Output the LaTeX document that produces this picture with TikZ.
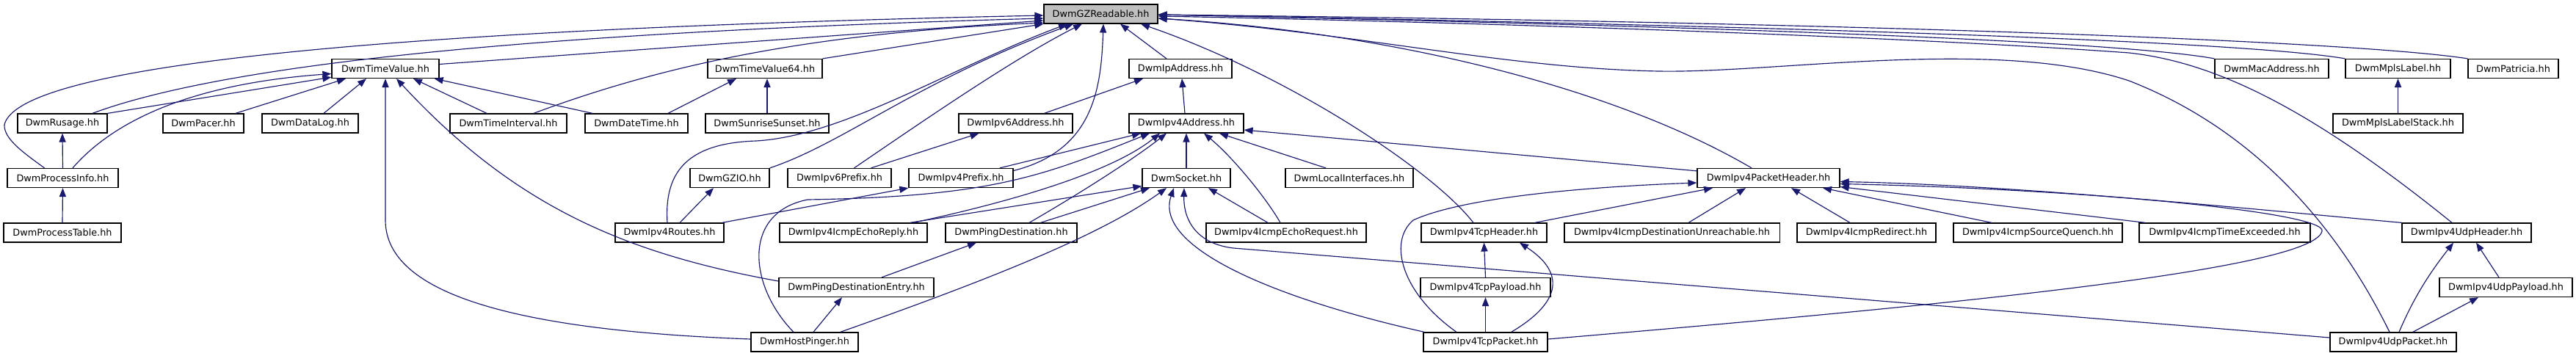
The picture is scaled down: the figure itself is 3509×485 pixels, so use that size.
\documentclass[tikz,border=0pt]{standalone}
\usepackage{fontspec}
\setmainfont{DejaVu Sans}
\usetikzlibrary{arrows.meta,calc}
\definecolor{edgeblue}{HTML}{191970}
\definecolor{rootgray}{HTML}{BFBFBF}
\begin{document}
\begin{tikzpicture}[x=0.01cm,y=-0.01cm,
  file/.style={draw=black,fill=white,line width=0.35pt,minimum height=0.26cm,inner sep=0pt,
    font=\fontsize{3.65}{4}\selectfont},
  dep/.style={draw=edgeblue,line width=0.33pt,-{Triangle[length=3.4pt,width=2.6pt]}}]
\fill[white] (0,0) rectangle (3509,485);
\useasboundingbox (0,0) rectangle (3509,485);
% row 0 and 1
\node[file,fill=rootgray,minimum width=1.55cm] (gz) at (1499.5,19) {DwmGZReadable.hh};
\node[file,minimum width=1.46cm] (tv) at (525,93.5) {DwmTimeValue.hh};
\node[file,minimum width=1.56cm] (tvlong) at (1042,93.5) {DwmTimeValue64.hh};
\node[file,minimum width=1.40cm] (ipaddr) at (1608,93.5) {DwmIpAddress.hh};
\node[file,minimum width=1.55cm] (mac) at (3094.5,93.5) {DwmMacAddress.hh};
\node[file,minimum width=1.43cm] (mpls) at (3266.5,93.5) {DwmMplsLabel.hh};
\node[file,minimum width=1.23cm] (patricia) at (3423.5,93.5) {DwmPatricia.hh};
% row 2
\node[file,minimum width=1.22cm] (rusage) at (85,168) {DwmRusage.hh};
\node[file,minimum width=1.10cm] (pacer) at (277,168) {DwmPacer.hh};
\node[file,minimum width=1.31cm] (datalog) at (422.5,168) {DwmDataLog.hh};
\node[file,minimum width=1.59cm] (tinterval) at (692.5,168) {DwmTimeInterval.hh};
\node[file,minimum width=1.40cm] (datetime) at (867,168) {DwmDateTime.hh};
\node[file,minimum width=1.68cm] (sunrise) at (1045,168) {DwmSunriseSunset.hh};
\node[file,minimum width=1.55cm] (ipvsix) at (1383.5,168) {DwmIpv6Address.hh};
\node[file,minimum width=1.56cm] (ipvfour) at (1616,168) {DwmIpv4Address.hh};
\node[file,minimum width=1.77cm] (mplsstack) at (3266.5,168) {DwmMplsLabelStack.hh};
% row 3
\node[file,minimum width=1.51cm] (procinfo) at (85.5,242.5) {DwmProcessInfo.hh};
\node[file,minimum width=1.08cm] (gzio) at (994,242.5) {DwmGZIO.hh};
\node[file,minimum width=1.41cm] (sixprefix) at (1143.5,242.5) {DwmIpv6Prefix.hh};
\node[file,minimum width=1.42cm] (fourprefix) at (1309,242.5) {DwmIpv4Prefix.hh};
\node[file,minimum width=1.20cm] (socket) at (1616,242.5) {DwmSocket.hh};
\node[file,minimum width=1.74cm] (localif) at (1838,242.5) {DwmLocalInterfaces.hh};
\node[file,minimum width=1.94cm] (pkthdr) at (2409,242.5) {DwmIpv4PacketHeader.hh};
% row 4
\node[file,minimum width=1.60cm] (proctable) at (85,317) {DwmProcessTable.hh};
\node[file,minimum width=1.48cm] (routes) at (912,317) {DwmIpv4Routes.hh};
\node[file,minimum width=2.01cm] (echoreply) at (1162.5,317) {DwmIpv4IcmpEchoReply.hh};
\node[file,minimum width=1.79cm] (pingdest) at (1377.5,317) {DwmPingDestination.hh};
\node[file,minimum width=2.18cm] (echoreq) at (1752,317) {DwmIpv4IcmpEchoRequest.hh};
\node[file,minimum width=1.71cm] (tcphdr) at (2021.5,317) {DwmIpv4TcpHeader.hh};
\node[file,minimum width=2.93cm] (unreach) at (2277.5,317) {DwmIpv4IcmpDestinationUnreachable.hh};
\node[file,minimum width=1.89cm] (redirect) at (2542.5,317) {DwmIpv4IcmpRedirect.hh};
\node[file,minimum width=2.30cm] (quench) at (2776,317) {DwmIpv4IcmpSourceQuench.hh};
\node[file,minimum width=2.33cm] (exceeded) at (3030.5,317) {DwmIpv4IcmpTimeExceeded.hh};
\node[file,minimum width=1.76cm] (udphdr) at (3360,317) {DwmIpv4UdpHeader.hh};
% row 5 and 6
\node[file,minimum width=2.11cm] (pingentry) at (1166.5,391.5) {DwmPingDestinationEntry.hh};
\node[file,minimum width=1.77cm] (tcppayload) at (2023.5,391.5) {DwmIpv4TcpPayload.hh};
\node[file,minimum width=1.81cm] (udppayload) at (3413.5,391.5) {DwmIpv4UdpPayload.hh};
\node[file,minimum width=1.46cm] (hostpinger) at (1096,466) {DwmHostPinger.hh};
\node[file,minimum width=1.69cm] (tcppacket) at (2023.5,466) {DwmIpv4TcpPacket.hh};
\node[file,minimum width=1.72cm] (udppacket) at (3260,466) {DwmIpv4UdpPacket.hh};
% into DwmGZReadable.hh
\draw[dep] ($(procinfo.north)+(-25,0)$) .. controls (35,210) and (5,190) .. (6,170)
  .. controls (20,110) and (300,45) .. ($(gz.west)+(0,2)$);
\draw[dep] ($(rusage.north)+(41,0)$) .. controls (300,90) and (700,45) .. ($(gz.west)+(0,6)$);
\draw[dep] ($(tv.east)+(0,-6)$) -- ($(gz.west)+(0,9)$);
\draw[dep] ($(tinterval.north)+(34.5,0)$) .. controls (900,90) and (1100,45) .. ($(gz.west)+(0,12)$);
\draw[dep] (tvlong.north east) -- (gz.south west);
\draw[dep] ($(routes.north)+(-3,0)$) .. controls (905,240) and (930,195) .. (1030,192)
  .. controls (1150,185) and (1300,90) .. ($(gz.south)+(-45.5,0)$);
\draw[dep] (gzio.north east) .. controls (1150,195) and (1250,110) .. ($(gz.south)+(-37.5,0)$);
\draw[dep] ($(sixprefix.north)+(20,0)$) .. controls (1250,170) and (1380,80) .. ($(gz.south)+(-25.5,0)$);
\draw[dep] ($(fourprefix.east)+(0,-10)$) .. controls (1490,205) and (1500,120) .. ($(gz.south)+(3.5,0)$);
\draw[dep] ($(ipaddr.north)+(-19,0)$) -- ($(gz.south)+(26.5,0)$);
\draw[dep] ($(tcphdr.north)+(-14.5,0)$) .. controls (1950,230) and (1750,100) .. ($(gz.south)+(54.5,0)$);
\draw[dep] ($(pkthdr.north)+(-23,0)$) .. controls (2200,120) and (1900,45) .. ($(gz.east)+(0,6)$);
\draw[dep] ($(udppacket.north)+(-5,0)$) .. controls (3190,320) and (3080,180) .. (2900,110)
  .. controls (2720,50) and (2420,100) .. (2259,97)
  .. controls (2050,93) and (1850,45) .. ($(gz.east)+(0,6)$);
\draw[dep] (mac.north west) .. controls (2880,55) and (2300,35) .. ($(gz.east)+(0,1)$);
\draw[dep] (mpls.north west) .. controls (3050,55) and (2400,35) .. ($(gz.east)+(0,1)$);
\draw[dep] (patricia.north west) .. controls (3200,55) and (2500,30) .. ($(gz.east)+(0,1)$);
\draw[dep] ($(udphdr.north)+(-20,0)$) .. controls (3150,150) and (3020,85) .. (2900,72)
  .. controls (2600,50) and (2000,30) .. ($(gz.east)+(0,3)$);
% into DwmTimeValue.hh and DwmTimeValue64.hh
\draw[dep] ($(procinfo.north)+(13.5,0)$) .. controls (150,170) and (250,115) .. ($(tv.west)+(0,7)$);
\draw[dep] (rusage.north east) -- ($(tv.south west)+(0,-2)$);
\draw[dep] ($(pacer.north)+(44,0)$) -- ($(tv.south)+(-54,0)$);
\draw[dep] ($(datalog.north)+(18.5,0)$) -- ($(tv.south)+(-26,0)$);
\draw[dep] ($(hostpinger.west)+(0,-4)$) .. controls (700,450) and (525,400) .. (525,300) -- (tv.south);
\draw[dep] ($(pingentry.west)+(0,-8.5)$) .. controls (850,345) and (700,280) .. ($(tv.south)+(15,0)$);
\draw[dep] ($(tinterval.north)+(-29.5,0)$) -- ($(tv.south)+(38,0)$);
\draw[dep] ($(datetime.north)+(-60,0)$) -- ($(tv.south east)+(-7,0)$);
\draw[dep] ($(datetime.north)+(43,0)$) -- ($(tvlong.south)+(-39,0)$);
\draw[dep] (sunrise.north) -- ($(tvlong.south)+(3,0)$);
\draw[dep] (procinfo.north) -- (rusage.south);
\draw[dep] (proctable.north) -- (procinfo.south);
% addresses and prefixes
\draw[dep] ($(ipvsix.north)+(39,0)$) -- ($(ipaddr.south)+(-51,0)$);
\draw[dep] ($(ipvfour.north)+(-2,0)$) -- ($(ipaddr.south)+(2,0)$);
\draw[dep] ($(sixprefix.north)+(43,0)$) -- ($(ipvsix.south)+(-50,0)$);
\draw[dep] ($(fourprefix.north)+(53,0)$) -- ($(ipvfour.south)+(-62,0)$);
\draw[dep] ($(hostpinger.north)+(-15,0)$) .. controls (1020,390) and (1010,290) .. (1100,272)
  .. controls (1350,268) and (1420,240) .. ($(ipvfour.south)+(-50,0)$);
\draw[dep] ($(echoreply.north)+(81.5,0)$) .. controls (1400,270) and (1520,230) .. ($(ipvfour.south)+(-36,0)$);
\draw[dep] ($(pingdest.north)+(24.5,0)$) .. controls (1460,270) and (1540,220) .. ($(ipvfour.south)+(-27,0)$);
\draw[dep] (socket.north) -- (ipvfour.south);
\draw[dep] ($(echoreq.north)+(-8,0)$) .. controls (1725,270) and (1680,215) .. ($(ipvfour.south)+(24,0)$);
\draw[dep] ($(localif.north)+(-32,0)$) -- ($(ipvfour.south)+(45,0)$);
\draw[dep] ($(pkthdr.north west)+(0,4)$) -- ($(ipvfour.east)+(0,9)$);
\draw[dep] ($(routes.north east)+(-3,0)$) -- (fourprefix.south west);
\draw[dep] ($(routes.north)+(14,0)$) -- ($(gzio.south)+(-22,0)$);
% into DwmSocket.hh
\draw[dep] ($(echoreply.north)+(77,0)$) -- ($(socket.west)+(0,11)$);
\draw[dep] ($(pingdest.north)+(40,0)$) -- ($(socket.south)+(-50,0)$);
\draw[dep] ($(hostpinger.north east)+(-25,0)$) .. controls (1350,380) and (1500,320) .. ($(socket.south)+(-27,0)$);
\draw[dep] ($(tcppacket.north west)+(2,0)$) .. controls (1750,410) and (1570,340) .. ($(socket.south)+(-17,0)$);
\draw[dep] ($(udppacket.west)+(0,-6)$) -- (1680,338) .. controls (1630,332) and (1612,300) .. ($(socket.south)+(-3,0)$);
\draw[dep] ($(echoreq.north)+(-25,0)$) -- ($(socket.south)+(30,0)$);
% into DwmIpv4PacketHeader.hh
\draw[dep] ($(tcppacket.north)+(-39.5,0)$) .. controls (1910,400) and (1890,330) .. (1925,300)
  .. controls (1990,270) and (2150,255) .. ($(pkthdr.west)+(0,6.5)$);
\draw[dep] ($(tcphdr.north east)+(-17,0)$) -- ($(pkthdr.south)+(-76,0)$);
\draw[dep] ($(unreach.north)+(22.5,0)$) -- ($(pkthdr.south)+(-31,0)$);
\draw[dep] ($(redirect.north)+(-22.5,0)$) -- ($(pkthdr.south)+(31,0)$);
\draw[dep] ($(quench.north)+(-63,0)$) -- ($(pkthdr.south)+(74,0)$);
\draw[dep] ($(exceeded.north west)+(9,0)$) -- ($(pkthdr.east)+(0,12)$);
\draw[dep] (udphdr.north west) .. controls (3100,288) and (2750,252) .. ($(pkthdr.east)+(0,5)$);
\draw[dep] ($(tcppacket.east)+(0,-4)$) .. controls (2600,420) and (3150,370) .. (3163,315)
  .. controls (3170,290) and (2850,258) .. ($(pkthdr.east)+(0,8)$);
% tcp, udp, mpls, ping
\draw[dep] (tcppayload.north) -- (tcphdr.south);
\draw[dep] ($(tcppacket.north east)+(-50,0)$) .. controls (2130,410) and (2130,370) .. ($(tcphdr.south)+(48.5,0)$);
\draw[dep] (tcppacket.north) -- (tcppayload.south);
\draw[dep] ($(udppacket.north)+(8,0)$) .. controls (3290,400) and (3315,365) .. ($(udphdr.south)+(-18,0)$);
\draw[dep] ($(udppayload.north)+(-9.5,0)$) -- ($(udphdr.south)+(13,0)$);
\draw[dep] ($(udppacket.north east)+(-60,0)$) -- ($(udppayload.south)+(-37.5,0)$);
\draw[dep] (mplsstack.north) -- (mpls.south);
\draw[dep] ($(pingentry.north)+(34.5,0)$) -- ($(pingdest.south)+(-47.5,0)$);
\draw[dep] ($(hostpinger.north)+(12,0)$) -- ($(pingentry.south)+(-19.5,0)$);
\end{tikzpicture}
\end{document}
